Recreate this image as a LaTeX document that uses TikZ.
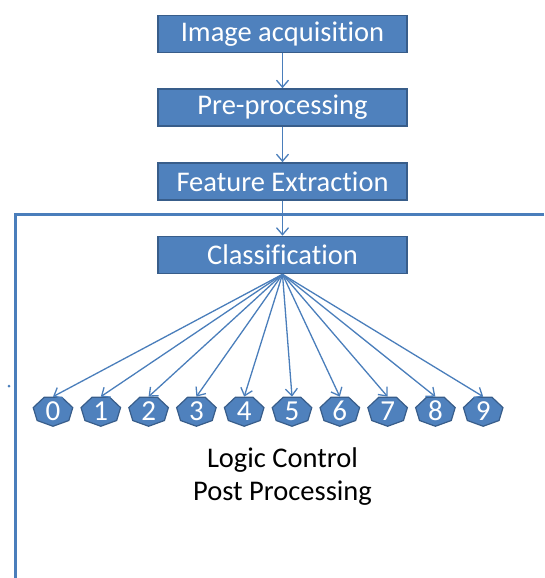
\documentclass[tikz,border=0pt]{standalone}
\usepackage{fontspec}
\setmainfont{Carlito}[Ligatures=NoCommon]
\usetikzlibrary{shapes.geometric,arrows.meta}
\definecolor{boxfill}{HTML}{4F81BD}
\definecolor{boxline}{HTML}{385D8A}
\definecolor{arr}{HTML}{4A7EBB}
\begin{document}
\begin{tikzpicture}[x=1pt,y=-1pt,
  stage/.style={draw=boxline, fill=boxfill, line width=1.6pt, minimum width=249pt,
    minimum height=37pt, text=white, font=\fontsize{28.5}{33}\selectfont, inner sep=0pt},
  hept/.style={regular polygon, regular polygon sides=7, shape border rotate=180,
    draw=boxline, fill=boxfill, line width=1.2pt, minimum size=30.5pt, inner sep=0pt,
    xscale=1.33, transform shape},
  digit/.style={text=white, font=\fontsize{29}{33}\selectfont, inner sep=0pt},
  plain/.style={text=black, font=\fontsize{28.5}{33}\selectfont, inner sep=0pt, anchor=base},
  conn/.style={draw=arr, line width=1.3pt, -{Straight Barb[length=7pt,width=12pt]}},
  framel/.style={draw=arr, line width=2.6pt}]
\useasboundingbox (0,0) rectangle (544,578);
% outer frame
\coordinate (fr1) at (544,214.5);
\coordinate (fr2) at (15.5,214.5);
\coordinate (fr3) at (15.5,578);
\draw[framel] (fr1) -- (fr2) -- (fr3);
\fill[arr] (9,386) circle (1.5pt);
% stages
\node[stage] (acq) at (282.5,34) {Image acquisition};
\node[stage] (pre) at (282.5,107.5) {Pre-processing};
\node[stage] (fea) at (282.5,181.5) {Feature Extraction};
\node[stage] (cls) at (282.5,255) {Classification};
\draw[conn] (acq) -- (pre);
\draw[conn] (pre) -- (fea);
\draw[conn] (fea) -- (cls);
% digits
\foreach \i in {0,...,9} {
  \node[hept] (h\i) at ({53+47.8*\i},411) {};
  \node[digit] (d\i) at (h\i.center) {\i};
  \draw[conn] (cls.south) -- (h\i.north);
}
\node[plain] (lc1) at (282.5,467) {Logic Control};
\node[plain] (lc2) at (282.5,500) {Post Processing};
\end{tikzpicture}
\end{document}
